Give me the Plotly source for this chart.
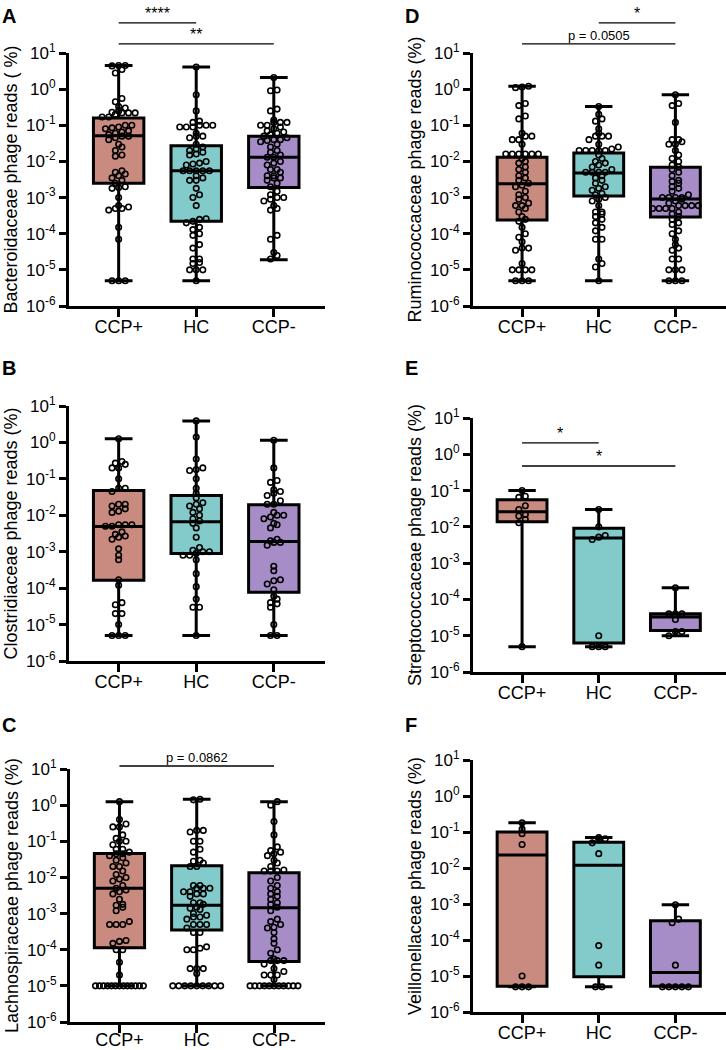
import numpy as np
import plotly.graph_objects as go
from plotly.subplots import make_subplots

groups = ['CCP+', 'HC', 'CCP-']
fill_colors = ['#C98A7F', '#83CBCB', '#A78DC8']
tick_vals = [1e-6, 1e-5, 1e-4, 1e-3, 1e-2, 1e-1, 1, 10]
tick_text = ['10<sup>-6</sup>', '10<sup>-5</sup>', '10<sup>-4</sup>', '10<sup>-3</sup>',
             '10<sup>-2</sup>', '10<sup>-1</sup>', '10<sup>0</sup>', '10<sup>1</sup>']

# A - Bacteroidaceae (min, q1, median, q3, max per group)
bact_min = [5e-6, 5e-6, 1.9e-5]
bact_q1 = [0.0025, 2.2e-4, 0.0019]
bact_med = [0.051, 0.0055, 0.013]
bact_q3 = [0.16, 0.027, 0.05]
bact_max = [4.5, 4.1, 2.1]
bact_ccp_pos = [4.5, 4.5, 4.4, 3.5, 2.8, 0.55, 0.45, 0.33, 0.3, 0.25, 0.23, 0.22, 0.22, 0.22, 0.2,
                0.17, 0.17, 0.1, 0.1, 0.09, 0.085, 0.08, 0.07, 0.065, 0.06, 0.055, 0.05, 0.05, 0.045,
                0.04, 0.03, 0.025, 0.02, 0.015, 0.014, 0.0055, 0.005, 0.0045, 0.004, 0.0035, 0.003,
                0.0025, 0.002, 0.0019, 0.0018, 0.001, 0.0006, 0.00055, 0.0005, 0.0005, 0.00045,
                0.00015, 0.00007, 5e-6, 5e-6, 5e-6]
bact_hc = [4.1, 0.7, 0.25, 0.13, 0.12, 0.1, 0.1, 0.1, 0.09, 0.09, 0.09, 0.06, 0.05, 0.045, 0.05,
           0.03, 0.025, 0.022, 0.02, 0.018, 0.016, 0.015, 0.01, 0.009, 0.0085, 0.008, 0.0055, 0.0055,
           0.0055, 0.0055, 0.0055, 0.004, 0.0035, 0.003, 0.003, 0.0018, 0.0012, 0.001, 0.0006,
           0.00026, 0.00025, 0.00022, 0.0002, 0.00015, 0.00013, 0.0001, 0.00009, 0.00005, 0.00004,
           0.00002, 0.00002, 0.000016, 0.000015, 0.00001, 0.00001, 0.00001, 5e-6]
bact_ccp_neg = [2.1, 0.95, 0.9, 0.28, 0.25, 0.14, 0.12, 0.12, 0.12, 0.1, 0.1, 0.09, 0.08, 0.07, 0.065,
                0.06, 0.055, 0.05, 0.045, 0.04, 0.04, 0.038, 0.035, 0.03, 0.025, 0.02, 0.018, 0.015,
                0.013, 0.013, 0.01, 0.009, 0.008, 0.006, 0.006, 0.005, 0.004, 0.004, 0.0035, 0.0035,
                0.003, 0.0025, 0.002, 0.0015, 0.0012, 0.001, 0.001, 0.0009, 0.0008, 0.0006, 0.0005,
                0.00045, 0.00009, 0.00007, 0.00003, 0.000025, 0.00002]

# B - Clostridiaceae
clos_min = [5e-6, 5e-6, 5e-6]
clos_q1 = [1.65e-4, 8.9e-4, 7.7e-5]
clos_med = [0.0049, 0.0066, 0.0019]
clos_q3 = [0.048, 0.035, 0.0195]
clos_max = [1.26, 3.9, 1.15]
clos_ccp_pos = [1.26, 0.3, 0.27, 0.25, 0.2, 0.2, 0.1, 0.055, 0.055, 0.045, 0.02, 0.02, 0.018, 0.015,
                0.013, 0.012, 0.0055, 0.0055, 0.005, 0.005, 0.0055, 0.0035, 0.003, 0.0027, 0.0025,
                0.0022, 0.0012, 0.0008, 0.0006, 0.00017, 0.00012, 0.00004, 0.000035, 0.00002,
                0.00002, 0.00001, 5e-6, 5e-6, 5e-6]
clos_hc = [3.9, 1.4, 0.35, 0.2, 0.18, 0.17, 0.1, 0.055, 0.04, 0.03, 0.022, 0.02, 0.018, 0.015,
           0.012, 0.01, 0.008, 0.007, 0.006, 0.0045, 0.0025, 0.0013, 0.0011, 0.001, 0.001, 0.0009,
           0.0008, 0.0008, 0.0006, 0.00025, 0.00011, 0.00005, 0.00003, 0.00003, 5e-6]
clos_ccp_neg = [1.15, 0.2, 0.09, 0.08, 0.05, 0.045, 0.04, 0.035, 0.025, 0.02, 0.02, 0.012, 0.01,
                0.01, 0.009, 0.008, 0.006, 0.0055, 0.0045, 0.0022, 0.002, 0.0018, 0.0018, 0.0015,
                0.0004, 0.0003, 0.00017, 0.00016, 0.00013, 0.00009, 0.00006, 0.00005, 0.00004,
                0.000037, 0.00003, 0.00001, 5e-6, 5e-6]

# C - Lachnospiraceae
lach_min = [1e-5, 1e-5, 1e-5]
lach_q1 = [1.14e-4, 3.5e-4, 4.7e-5]
lach_med = [0.005, 0.0017, 0.00145]
lach_q3 = [0.046, 0.021, 0.0135]
lach_max = [1.25, 1.45, 1.25]
lach_ccp_pos = [1.25, 0.4, 0.3, 0.25, 0.25, 0.15, 0.12, 0.1, 0.1, 0.08, 0.06, 0.06, 0.05, 0.045,
                0.045, 0.04, 0.035, 0.03, 0.025, 0.02, 0.02, 0.015, 0.012, 0.01, 0.009, 0.008, 0.006,
                0.005, 0.0045, 0.004, 0.0035, 0.0025, 0.0018, 0.0017, 0.0015, 0.0012, 0.0006, 0.0005,
                0.0005, 0.0005, 0.00018, 0.00017, 0.00015, 0.0001, 0.0001, 4.5e-5, 2e-5,
                1e-5, 1e-5, 1e-5, 1e-5, 1e-5, 1e-5, 1e-5, 1e-5, 1e-5, 1e-5, 1e-5, 1e-5, 1e-5]
lach_hc = [1.45, 1.4, 0.2, 0.2, 0.18, 0.1, 0.1, 0.06, 0.05, 0.03, 0.028, 0.025, 0.02, 0.02, 0.006,
           0.006, 0.005, 0.005, 0.005, 0.004, 0.004, 0.0035, 0.0035, 0.003, 0.002, 0.002, 0.0018,
           0.0015, 0.0014, 0.0013, 0.001, 0.0009, 0.0008, 0.0008, 0.0007, 0.0005, 0.0005, 0.0005,
           0.0004, 0.0003, 0.0003, 0.00012, 0.00011, 0.0001, 0.0001, 3e-5, 3e-5, 3e-5, 2.2e-5,
           1e-5, 1e-5, 1e-5, 1e-5, 1e-5, 1e-5, 1e-5, 1e-5, 1e-5]
lach_ccp_neg = [1.25, 1.0, 0.35, 0.15, 0.07, 0.055, 0.05, 0.045, 0.04, 0.03, 0.025, 0.02, 0.016,
                0.015, 0.015, 0.015, 0.01, 0.008, 0.006, 0.005, 0.004, 0.0035, 0.003, 0.0025, 0.002,
                0.0018, 0.0015, 0.0012, 0.0007, 0.0006, 0.0005, 0.0004, 0.00042, 0.0003, 0.0002,
                0.00015, 0.0001, 0.00008, 5.5e-5, 5e-5, 5e-5, 5e-5, 4e-5, 3e-5, 2.5e-5, 2e-5, 2e-5,
                2e-5, 1.5e-5, 1e-5, 1e-5, 1e-5, 1e-5, 1e-5, 1e-5, 1e-5, 1e-5, 1e-5, 1e-5, 1e-5]

# D - Ruminococcaceae
rumi_min = [5e-6, 5e-6, 5e-6]
rumi_q1 = [2.4e-4, 0.0011, 2.9e-4]
rumi_med = [0.0024, 0.0048, 9.1e-4]
rumi_q3 = [0.013, 0.017, 0.0069]
rumi_max = [1.2, 0.33, 0.7]
rumi_ccp_pos = [1.2, 1.15, 1.1, 0.4, 0.35, 0.18, 0.15, 0.06, 0.05, 0.05, 0.04, 0.04, 0.03, 0.016,
                0.016, 0.016, 0.016, 0.016, 0.016, 0.012, 0.01, 0.009, 0.007, 0.006, 0.005, 0.004,
                0.0035, 0.003, 0.0025, 0.0022, 0.002, 0.0015, 0.0012, 0.001, 0.0009, 0.0007, 0.0006,
                0.0006, 0.0005, 0.0004, 0.0003, 0.00025, 0.00022, 0.00015, 0.0001, 0.00008, 0.00006,
                0.00004, 0.000035, 0.00004, 0.000015, 0.00001, 0.00001, 0.00001, 0.00001,
                5e-6, 5e-6, 5e-6]
rumi_hc = [0.33, 0.2, 0.15, 0.13, 0.08, 0.06, 0.05, 0.05, 0.05, 0.04, 0.03, 0.025, 0.022, 0.02,
           0.02, 0.02, 0.02, 0.02, 0.015, 0.012, 0.01, 0.009, 0.008, 0.007, 0.006, 0.005, 0.005,
           0.005, 0.005, 0.004, 0.0035, 0.003, 0.0025, 0.002, 0.0018, 0.0016, 0.0013, 0.0012, 0.001,
           0.0009, 0.0008, 0.0006, 0.0004, 0.0004, 0.00035, 0.0003, 0.00025, 0.0002, 0.00015,
           0.00012, 7e-5, 7e-5, 2e-5, 1.5e-5, 1.2e-5, 5e-6]
rumi_ccp_neg = [0.7, 0.4, 0.35, 0.12, 0.04, 0.035, 0.03, 0.04, 0.03, 0.02, 0.015, 0.012, 0.01,
                0.008, 0.007, 0.006, 0.005, 0.004, 0.003, 0.0028, 0.0025, 0.002, 0.0018, 0.0015,
                0.0012, 0.001, 0.001, 0.001, 0.001, 0.0009, 0.0008, 0.0007, 0.0006, 0.0006, 0.0006,
                0.0006, 0.0005, 0.0005, 0.0005, 0.0005, 0.0004, 0.00035, 0.0003, 0.00025, 0.0002,
                0.00018, 0.00012, 0.0001, 7e-5, 5e-5, 4e-5, 3.5e-5, 2e-5, 2e-5, 1e-5, 1e-5, 1e-5,
                5e-6, 5e-6, 5e-6]

# E - Streptococcaceae
strep_min = [5e-6, 5e-6, 1e-5]
strep_q1 = [0.0139, 6.3e-6, 1.4e-5]
strep_med = [0.026, 0.0049, 3.3e-5]
strep_q3 = [0.056, 0.0091, 4e-5]
strep_max = [0.1, 0.03, 2.1e-4]
strep_ccp_pos = [0.1, 0.07, 0.065, 0.038, 0.03, 0.022, 0.02, 0.016, 0.013, 5e-6]
strep_hc = [0.03, 0.01, 0.0058, 0.0045, 0.0052, 1e-5, 5e-6, 5e-6, 5e-6]
strep_ccp_neg = [2.1e-4, 4e-5, 4e-5, 4e-5, 2.8e-5, 1.3e-5, 1.3e-5, 1e-5]

# F - Veillonellaceae
veil_min = [5e-6, 5e-6, 5e-6]
veil_q1 = [5.2e-6, 9.5e-6, 5.2e-6]
veil_med = [0.023, 0.012, 1.25e-5]
veil_q3 = [0.1, 0.052, 3.4e-4]
veil_max = [0.18, 0.07, 9.5e-4]
veil_ccp_pos = [0.18, 0.12, 0.09, 0.045, 1e-5, 5e-6, 5e-6, 5e-6]
veil_hc = [0.07, 0.065, 0.06, 0.05, 0.025, 7e-5, 2e-5, 5e-6, 5e-6]
veil_ccp_neg = [0.00095, 0.00038, 0.0003, 2e-5, 5e-6, 5e-6, 5e-6, 5e-6, 5e-6]

X_RANGE = [-0.64, 2.66]


def swarm_offsets(values, step=0.085, row_gap=0.12, max_half=0.31):
    """Prism-like column scatter: points at similar height share a row, spread sideways."""
    logs = np.log10(np.asarray(values, dtype=float))
    order = np.argsort(logs)
    offsets = np.zeros(len(logs))
    rows = []
    for i in order:
        if rows and logs[i] - logs[rows[-1][0]] < row_gap:
            rows[-1].append(i)
        else:
            rows.append([i])
    for row in rows:
        n = len(row)
        s = step if n < 2 else min(step, 2 * max_half / (n - 1))
        for k, i in enumerate(row):
            offsets[i] = (k - (n - 1) / 2) * s
    return offsets


panels = [
    dict(letter='A', title='Bacteroidaceae phage reads ( %)',
         stats=(bact_min, bact_q1, bact_med, bact_q3, bact_max),
         points=[bact_ccp_pos, bact_hc, bact_ccp_neg],
         brackets=[(0, 1, 1.119, '****'), (0, 2, 1.036, '**')]),
    dict(letter='D', title='Ruminococcaceae phage reads (%)',
         stats=(rumi_min, rumi_q1, rumi_med, rumi_q3, rumi_max),
         points=[rumi_ccp_pos, rumi_hc, rumi_ccp_neg],
         brackets=[(1, 2, 1.119, '*'), (0, 2, 1.036, 'p = 0.0505')]),
    dict(letter='B', title='Clostridiaceae phage reads (%)',
         stats=(clos_min, clos_q1, clos_med, clos_q3, clos_max),
         points=[clos_ccp_pos, clos_hc, clos_ccp_neg],
         brackets=[]),
    dict(letter='E', title='Streptococcaceae phage reads (%)',
         stats=(strep_min, strep_q1, strep_med, strep_q3, strep_max),
         points=[strep_ccp_pos, strep_hc, strep_ccp_neg],
         brackets=[(0, 1, 0.902, '*'), (0, 2, 0.811, '*')]),
    dict(letter='C', title='Lachnospiraceae phage reads (%)',
         stats=(lach_min, lach_q1, lach_med, lach_q3, lach_max),
         points=[lach_ccp_pos, lach_hc, lach_ccp_neg],
         brackets=[(0, 2, 1.012, 'p = 0.0862')]),
    dict(letter='F', title='Veillonellaceae phage reads (%)',
         stats=(veil_min, veil_q1, veil_med, veil_q3, veil_max),
         points=[veil_ccp_pos, veil_hc, veil_ccp_neg],
         brackets=[]),
]

# plot areas in pixels (left, right, top, bottom) and panel letter positions
W, H = 726, 1050
areas = [(69, 325, 53, 306), (473, 726, 53, 306),
         (69, 325, 406, 661), (473, 726, 418, 672),
         (70, 325, 769, 1022), (473, 726, 760, 1012)]
letter_pos = [(0, 3), (403, 3), (0, 355), (403, 355), (0, 712), (403, 712)]
label_standoff = [-6, -6, -6, -6, -9, -6]

fig = make_subplots(rows=3, cols=2)
font = 'Arial, Liberation Sans, sans-serif'

for k, panel in enumerate(panels):
    row, col = k // 2 + 1, k % 2 + 1
    mn, q1, med, q3, mx = panel['stats']
    for g in range(3):
        fig.add_trace(
            go.Box(
                x=[g], q1=[q1[g]], median=[med[g]], q3=[q3[g]],
                lowerfence=[mn[g]], upperfence=[mx[g]],
                width=0.65, whiskerwidth=0.55,
                fillcolor=fill_colors[g], line=dict(color='black', width=3),
                boxpoints=False, hoverinfo='skip', showlegend=False,
            ),
            row=row, col=col,
        )
    for g, pts in enumerate(panel['points']):
        offs = swarm_offsets(pts)
        fig.add_trace(
            go.Scatter(
                x=g + offs, y=pts, mode='markers',
                marker=dict(symbol='circle-open', size=5.5, color='black', line=dict(width=1.6, color='black')),
                cliponaxis=False, hoverinfo='skip', showlegend=False,
            ),
            row=row, col=col,
        )

    left, right, top, bottom = areas[k]
    sfx = '' if k == 0 else str(k + 1)
    fig.layout['xaxis' + sfx].update(
        domain=[left / W, right / W], range=X_RANGE,
        tickvals=[0, 1, 2], ticktext=groups,
        showline=True, linewidth=3, linecolor='black',
        ticks='outside', ticklen=8, tickwidth=3, tickcolor='black',
        ticklabelstandoff=label_standoff[k],
        showgrid=False, zeroline=False, automargin=False,
        tickfont=dict(family=font, size=18, color='black'),
    )
    fig.layout['yaxis' + sfx].update(
        domain=[1 - bottom / H, 1 - top / H], type='log', range=[-6, 1],
        tickvals=tick_vals, ticktext=tick_text,
        showline=True, linewidth=3, linecolor='black',
        ticks='outside', ticklen=7, tickwidth=3, tickcolor='black',
        showgrid=False, zeroline=False, automargin=False,
        tickfont=dict(family=font, size=17, color='black'),
        title=dict(text=panel['title'], standoff=4, font=dict(family=font, size=18, color='black')),
    )

    xr = 'x' + sfx + ' domain'
    yr = 'y' + sfx + ' domain'
    span = X_RANGE[1] - X_RANGE[0]
    for g0, g1, yd, label in panel['brackets']:
        x0 = (g0 - X_RANGE[0]) / span
        x1 = (g1 - X_RANGE[0]) / span
        fig.add_shape(type='line', xref=xr, yref=yr, x0=x0, x1=x1, y0=yd, y1=yd,
                      line=dict(color='black', width=1.4))
        size = 16 if label.startswith('*') else 13
        fig.add_annotation(xref=xr, yref=yr, x=(x0 + x1) / 2, y=yd, yanchor='bottom',
                           text=label, showarrow=False, yshift=-1,
                           font=dict(family=font, size=size, color='black'))

    lx, ly = letter_pos[k]
    fig.add_annotation(xref='paper', yref='paper', x=lx / W, y=1 - ly / H,
                       xanchor='left', yanchor='top', text='<b>' + panel['letter'] + '</b>',
                       showarrow=False, font=dict(family=font, size=20, color='black'))

fig.update_layout(
    width=W, height=H,
    margin=dict(l=0, r=0, t=0, b=0),
    paper_bgcolor='white', plot_bgcolor='white',
    showlegend=False,
)

# the page body has a default 8px margin; drop it so the figure sits at the window corner
fig.write_html('out.html', config={'displayModeBar': False},
               post_script="document.body.style.margin = '0';")
